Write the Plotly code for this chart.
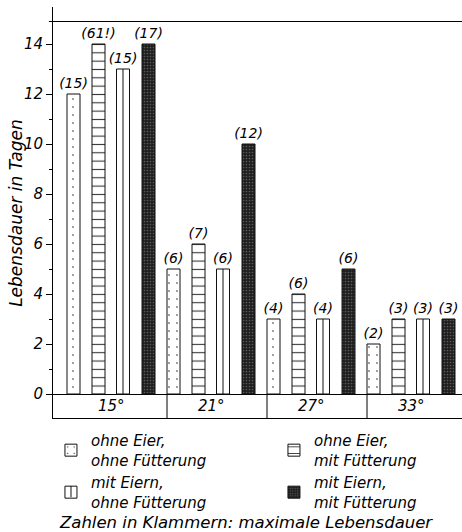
import plotly.graph_objects as go

# ---- data ----
categories = ["15°", "21°", "27°", "33°"]
series_names = [
    "ohne Eier,<br>ohne Fütterung",
    "ohne Eier,<br>mit Fütterung",
    "mit Eiern,<br>ohne Fütterung",
    "mit Eiern,<br>mit Fütterung",
]
vals_ohne_eier_ohne_fuetterung = [12, 5, 3, 2]
vals_ohne_eier_mit_fuetterung = [14, 6, 4, 3]
vals_mit_eiern_ohne_fuetterung = [13, 5, 3, 3]
vals_mit_eiern_mit_fuetterung = [14, 10, 5, 3]
max_ohne_eier_ohne_fuetterung = ["(15)", "(6)", "(4)", "(2)"]
max_ohne_eier_mit_fuetterung = ["(61!)", "(7)", "(6)", "(3)"]
max_mit_eiern_ohne_fuetterung = ["(15)", "(6)", "(4)", "(3)"]
max_mit_eiern_mit_fuetterung = ["(17)", "(12)", "(6)", "(3)"]
y_tick_vals = [0, 2, 4, 6, 8, 10, 12, 14]
footer_text = "Zahlen in Klammern: maximale Lebensdauer"
y_title = "Lebensdauer in Tagen"

values = [vals_ohne_eier_ohne_fuetterung, vals_ohne_eier_mit_fuetterung,
          vals_mit_eiern_ohne_fuetterung, vals_mit_eiern_mit_fuetterung]
labels = [max_ohne_eier_ohne_fuetterung, max_ohne_eier_mit_fuetterung,
          max_mit_eiern_ohne_fuetterung, max_mit_eiern_mit_fuetterung]

FONT = "DejaVu Sans"
x_idx = list(range(len(categories)))
bar_w = 0.13
offsets = [-0.44, -0.19, 0.055, 0.31]
fill_colors = ["white", "white", "rgba(255,255,255,0)", "white"]
patterns = [
    dict(shape=".", size=8, solidity=0.03, fgcolor="#222", bgcolor="white", fillmode="replace"),
    dict(shape="-", size=8.33, solidity=0.13, fgcolor="#333", bgcolor="white", fillmode="replace"),
    None,
    dict(shape=".", size=3, solidity=0.25, fgcolor="#5a5a5a", bgcolor="#1e1e1e", fillmode="replace"),
]

fig = go.Figure()
for k in range(4):
    marker = dict(color=fill_colors[k], line=dict(color="#111", width=1))
    if patterns[k] is not None:
        marker["pattern"] = patterns[k]
    fig.add_trace(go.Bar(
        x=x_idx, y=values[k], name=series_names[k],
        offset=offsets[k], width=bar_w, marker=marker,
        text=labels[k], textposition="outside", textangle=0, constraintext="none",
        cliponaxis=False,
        textfont=dict(family=FONT, size=14, color="black", style="italic"),
    ))

# middle divider line inside the "mit Eiern, ohne Fütterung" bars
mid_x, mid_y = [], []
for i, v in zip(x_idx, vals_mit_eiern_ohne_fuetterung):
    cx = i + offsets[2] + bar_w / 2
    mid_x += [cx, cx, None]
    mid_y += [0, v, None]
fig.add_trace(go.Scatter(x=mid_x, y=mid_y, mode="lines", line=dict(color="#111", width=1),
                         showlegend=False, hoverinfo="skip"))

shapes = []
# top frame line
shapes.append(dict(type="line", xref="paper", yref="y", x0=-0.01, x1=1, y0=14.9, y1=14.9,
                   line=dict(color="black", width=1)))
# category box dividers
for i in x_idx[1:]:
    xd = i + offsets[0]
    shapes.append(dict(type="line", xref="x", yref="y", x0=xd, x1=xd, y0=-0.96, y1=0,
                       line=dict(color="black", width=1)))
# middle line of the legend symbol for "mit Eiern, ohne Fütterung"
shapes.append(dict(type="line", xref="paper", yref="paper", x0=0.044, x1=0.044,
                   y0=-0.1655, y1=-0.1925, line=dict(color="#111", width=1)))

annotations = []
for i, c in zip(x_idx, categories):
    annotations.append(dict(x=i, y=-0.48, xref="x", yref="y", text=c, showarrow=False,
                            font=dict(family=FONT, size=15, color="black", style="italic")))
annotations.append(dict(x=0.472, y=-0.255, xref="paper", yref="paper", text=footer_text,
                        showarrow=False, xanchor="center", yanchor="middle",
                        font=dict(family=FONT, size=16.5, color="black", style="italic")))
annotations.append(dict(x=-0.092, y=0.50, xref="paper", yref="paper", text=y_title,
                        textangle=-90, showarrow=False, xanchor="center", yanchor="middle",
                        font=dict(family=FONT, size=17, color="black", style="italic")))

fig.update_layout(
    width=462, height=532,
    margin=dict(l=53, r=0, t=7, b=114, autoexpand=False),
    paper_bgcolor="white", plot_bgcolor="white",
    font=dict(family=FONT, size=14, color="black", style="italic"),
    barmode="overlay",
    showlegend=True,
    legend=dict(orientation="h", x=-0.005, y=-0.015, xanchor="left", yanchor="top",
                entrywidth=178, entrywidthmode="pixels", traceorder="normal",
                font=dict(family=FONT, size=15, color="black", style="italic"),
                itemclick=False, bgcolor="rgba(0,0,0,0)"),
    xaxis=dict(range=[-0.58, 3.51], showticklabels=False, ticks="", showgrid=False,
               zeroline=False, showline=True, linecolor="black", linewidth=1, fixedrange=True),
    yaxis=dict(range=[-0.96, 15.48], tickvals=y_tick_vals, ticks="outside", ticklen=6,
               tickcolor="black", showline=True, linecolor="black", linewidth=1,
               showgrid=False, zeroline=True, zerolinecolor="black", zerolinewidth=1,
               automargin=False, fixedrange=True,
               minor=dict(tickvals=[1, 3, 5, 7, 9, 11, 13], ticks="outside", ticklen=3,
                          tickcolor="black"),
               tickfont=dict(family=FONT, size=15, color="black", style="italic")),
    shapes=shapes, annotations=annotations,
)

# remove the default 8px page margin so the 462x532 figure fills the window exactly
fig.write_html("out.html", config={"displayModeBar": False},
               post_script="document.body.style.margin='0px';document.body.style.overflow='hidden';")
